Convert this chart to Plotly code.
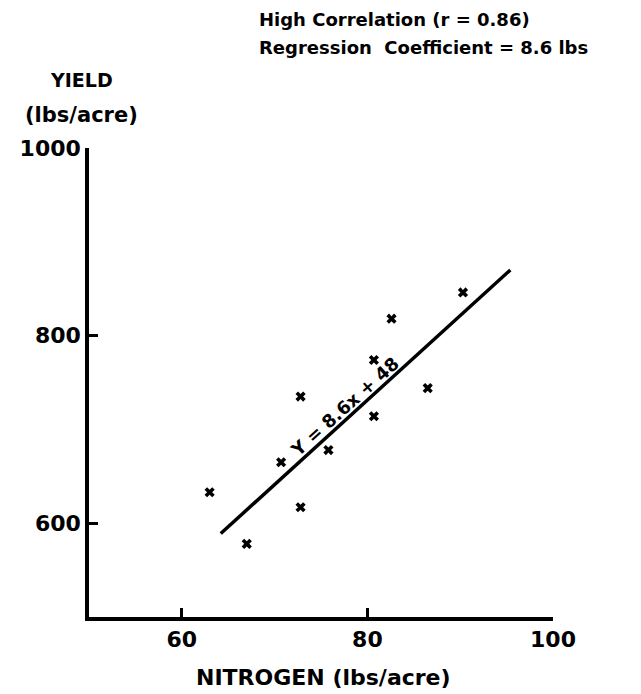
import plotly.graph_objects as go

# Observed data points (nitrogen lbs/acre, yield lbs/acre)
nitrogen = [63.0, 67.0, 72.8, 70.7, 72.8, 75.8, 80.7, 80.7, 82.6, 86.5, 90.3]
yield_ = [633, 578, 617, 665, 735, 678, 714, 774, 818, 744, 846]

# Hand-drawn regression line end points
line_x = [64.2, 95.4]
line_y = [589, 870]

x_ticks = [60, 80, 100]
y_ticks = [600, 800, 1000]

FONT = "DejaVu Sans"

fig = go.Figure()
fig.add_trace(go.Scatter(x=line_x, y=line_y, mode="lines",
                         line=dict(color="black", width=3.5), showlegend=False))
fig.add_trace(go.Scatter(x=nitrogen, y=yield_, mode="markers",
                         marker=dict(symbol="x", size=9, color="black"),
                         showlegend=False))

fig.update_layout(
    width=633, height=686,
    margin=dict(l=74, r=88, t=140, b=77),
    paper_bgcolor="white", plot_bgcolor="white",
    font=dict(family=FONT, color="black"),
    xaxis=dict(range=[50, 100], tickvals=x_ticks, ticktext=[f"<b>{v}</b>" for v in x_ticks],
               showgrid=False, zeroline=False, showline=True, linecolor="black",
               linewidth=3.5, ticks="inside", ticklen=9, tickwidth=3, tickcolor="black",
               tickfont=dict(size=22, family=FONT), ticklabelstandoff=0),
    yaxis=dict(range=[500, 1000], tickvals=y_ticks, ticktext=[f"<b>{v}</b>" for v in y_ticks],
               showgrid=False, zeroline=False, showline=True, linecolor="black",
               linewidth=3.5, ticks="inside", ticklen=9, tickwidth=3, tickcolor="black",
               tickfont=dict(size=22, family=FONT), ticklabelstandoff=0),
)

ann = [
    dict(text="<b>YIELD</b>", x=-0.017, y=1.145, size=19),
    dict(text="<b>(lbs/acre)</b>", x=-0.017, y=1.070, size=21),
    dict(text="<b>NITROGEN (lbs/acre)</b>", x=0.505, y=-0.128, size=22),
]
for a in ann:
    fig.add_annotation(text=a["text"], x=a["x"], y=a["y"], xref="paper", yref="paper",
                       showarrow=False, font=dict(size=a["size"], family=FONT, color="black"),
                       xanchor="center", yanchor="middle")

fig.add_annotation(text="<b>High Correlation (r = 0.86)</b>", x=0.363, y=1.274,
                   xref="paper", yref="paper", showarrow=False, xanchor="left",
                   yanchor="middle", font=dict(size=18, family=FONT, color="black"))
fig.add_annotation(text="<b>Regression  Coefficient = 8.6 lbs</b>", x=0.363, y=1.214,
                   xref="paper", yref="paper", showarrow=False, xanchor="left",
                   yanchor="middle", font=dict(size=18, family=FONT, color="black"))
fig.add_annotation(text="<b>Y = 8.6x + 48</b>", x=77.6, y=724, xref="x", yref="y",
                   showarrow=False, textangle=-42,
                   font=dict(size=18, family=FONT, color="black"))

fig.write_html("out.html")
